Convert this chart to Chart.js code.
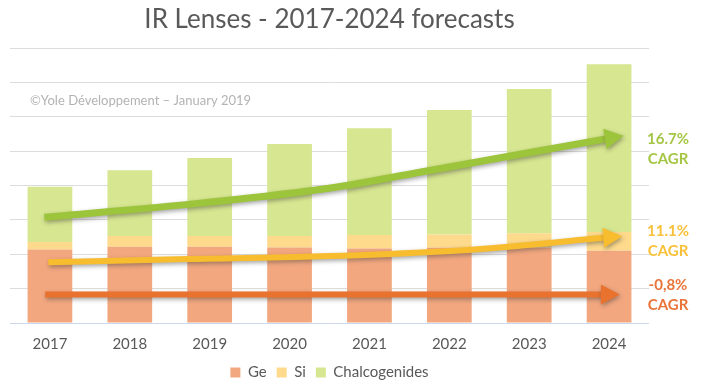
<!DOCTYPE html>
<html><head><meta charset="utf-8">
<script src="https://cdn.jsdelivr.net/npm/chart.js@4"></script>
<style>html,body{margin:0;padding:0;background:#fff}</style>
</head><body>
<canvas id="c" width="713" height="387"></canvas>
<script>
const categories = ['2017','2018','2019','2020','2021','2022','2023','2024'];
const ge     = [2.14, 2.22, 2.22, 2.20, 2.17, 2.19, 2.20, 2.10];
const si     = [0.22, 0.31, 0.31, 0.33, 0.39, 0.39, 0.41, 0.55];
const chalco = [1.61, 1.92, 2.27, 2.68, 3.11, 3.62, 4.20, 4.88];

const greenArrowX  = [-0.07, 1.88, 3.51, 4.63, 6.96];
const greenArrowY  = [3.08, 3.49, 3.93, 4.39, 5.36];
const yellowArrowX = [-0.02, 1.72, 3.38, 5.17, 6.94];
const yellowArrowY = [1.77, 1.86, 1.94, 2.12, 2.48];
const orangeArrowX = [-0.06, 6.91];
const orangeArrowY = [0.83, 0.83];

const cagrValues = ['16.7%', '11.1%', '-0,8%'];
const cagrAnchorY = [5.05, 2.38, 0.81];
const titleText = 'IR Lenses - 2017-2024 forecasts';
const watermarkText = '©Yole Développement – January 2019';

const FONT = 'Lato, "Open Sans", sans-serif';
const zip = (xs, ys) => xs.map((x, i) => ({x, y: ys[i]}));

const arrowDs = (xs, ys, color, w) => ({
  type: 'line', data: zip(xs, ys), xAxisID: 'xl', yAxisID: 'yl',
  borderColor: color, backgroundColor: color, borderWidth: w,
  pointRadius: 0, tension: 0.4, cubicInterpolationMode: 'monotone',
  fill: false, order: 0, isArrow: true, borderCapStyle: 'butt'
});

const arrowPlugin = {
  id: 'arrows',
  beforeDatasetDraw(chart, args) {
    const ds = chart.data.datasets[args.index];
    if (!ds.isArrow) return;
    const ctx = chart.ctx;
    ctx.save();
    ctx.shadowColor = 'rgba(60,60,60,0.45)';
    ctx.shadowBlur = 4;
    ctx.shadowOffsetX = 1;
    ctx.shadowOffsetY = 2;
  },
  afterDatasetDraw(chart, args) {
    const ds = chart.data.datasets[args.index];
    if (!ds.isArrow) return;
    const ctx = chart.ctx;
    const pts = args.meta.data;
    const last = pts[pts.length - 1];
    const prev = pts[pts.length - 2];
    let dx = last.x - (last.cp1x !== undefined ? last.cp1x : prev.x);
    let dy = last.y - (last.cp1y !== undefined ? last.cp1y : prev.y);
    if (Math.hypot(dx, dy) < 0.5) { dx = last.x - prev.x; dy = last.y - prev.y; }
    const len = Math.hypot(dx, dy);
    const ux = dx / len, uy = dy / len;
    const L = 18, H = 10;
    ctx.fillStyle = ds.borderColor;
    ctx.beginPath();
    ctx.moveTo(last.x + ux * L, last.y + uy * L);
    ctx.lineTo(last.x - uy * H - ux * 1, last.y + ux * H - uy * 1);
    ctx.lineTo(last.x + uy * H - ux * 1, last.y - ux * H + uy * 1);
    ctx.closePath();
    ctx.fill();
    ctx.restore();
  }
};

const textPlugin = {
  id: 'texts',
  beforeDatasetsDraw(chart) {
    const {ctx, chartArea} = chart;
    ctx.save();
    ctx.font = '13px ' + FONT;
    ctx.fillStyle = '#b3b3b3';
    ctx.textAlign = 'left';
    ctx.textBaseline = 'middle';
    ctx.fillText(watermarkText, chartArea.left + 20, chartArea.top + 53);
    ctx.restore();
  },
  afterDraw(chart) {
    const {ctx, chartArea} = chart;
    const y = chart.scales.yl;
    const colors = ['#A5C645', '#F9C13A', '#E9743A'];
    ctx.save();
    ctx.font = 'bold 15px ' + FONT;
    ctx.textAlign = 'center';
    ctx.textBaseline = 'middle';
    cagrValues.forEach((v, i) => {
      const cy = y.getPixelForValue(cagrAnchorY[i]);
      const cx = chartArea.right + 19;
      ctx.fillStyle = colors[i];
      ctx.fillText(v, cx, cy - 10);
      ctx.fillText('CAGR', cx, cy + 10);
    });
    ctx.restore();
  }
};

new Chart(document.getElementById('c'), {
  type: 'bar',
  data: {
    labels: categories,
    datasets: [
      {label: 'Ge', data: ge, backgroundColor: '#F2A77F', order: 1},
      {label: 'Si', data: si, backgroundColor: '#FDDA8C', order: 1},
      {label: 'Chalcogenides', data: chalco, backgroundColor: '#D7E690', order: 1},
      arrowDs(greenArrowX, greenArrowY, '#9DC53B', 7),
      arrowDs(yellowArrowX, yellowArrowY, '#F8BD2E', 6),
      arrowDs(orangeArrowX, orangeArrowY, '#E9722F', 6)
    ]
  },
  options: {
    responsive: false,
    animation: false,
    layout: {padding: {left: 10, right: 64, top: 0, bottom: -3}},
    datasets: {bar: {categoryPercentage: 1, barPercentage: 0.56, borderWidth: 0, grouped: false}},
    scales: {
      x: {
        stacked: true,
        grid: {display: false, drawTicks: false},
        border: {display: false},
        ticks: {color: '#595959', font: {family: FONT, size: 15}, padding: 12},
        afterFit: s => { s.height = 32; }
      },
      y: {
        stacked: true, min: 0, max: 8,
        ticks: {display: false, stepSize: 1},
        border: {display: false},
        grid: {drawTicks: false, color: c => c.tick.value === 0 ? '#c9d8ec' : '#dcdcdc', lineWidth: 1}
      },
      xl: {type: 'linear', display: false, min: -0.5, max: 7.5, offset: false, grid: {offset: false}},
      yl: {type: 'linear', display: false, min: 0, max: 8}
    },
    plugins: {
      title: {
        display: true, text: titleText, color: '#595959',
        font: {family: FONT, size: 26, weight: 'normal'},
        padding: {top: 4, bottom: 13}
      },
      legend: {
        position: 'bottom',
        labels: {
          filter: item => item.datasetIndex < 3,
          boxWidth: 10, boxHeight: 10, color: '#595959',
          font: {family: FONT, size: 15}, padding: 10
        }
      },
      tooltip: {enabled: false}
    }
  },
  plugins: [arrowPlugin, textPlugin]
});
</script>
</body></html>
